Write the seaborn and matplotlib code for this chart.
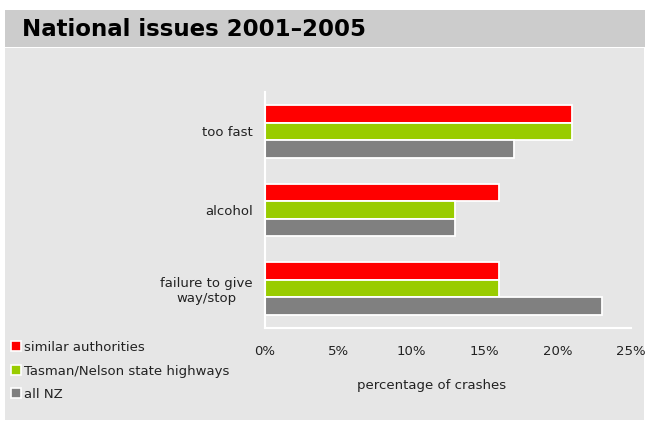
import matplotlib
matplotlib.use("Agg")
import matplotlib.pyplot as plt
import seaborn as sns
import pandas as pd
from matplotlib.patches import Rectangle
from matplotlib.lines import Line2D

categories = ["too fast", "alcohol", "failure to give\nway/stop"]
series = ["similar authorities", "Tasman/Nelson state highways", "all NZ"]
similar_authorities = [21, 16, 16]
tasman_nelson = [21, 13, 16]
all_nz = [17, 13, 23]
colors = ["#ff0000", "#99cc00", "#808080"]
xticks = [0, 5, 10, 15, 20, 25]
xtick_labels = ["0%", "5%", "10%", "15%", "20%", "25%"]

rows = []
for s, vals in zip(series, [similar_authorities, tasman_nelson, all_nz]):
    for c, v in zip(categories, vals):
        rows.append({"category": c, "series": s, "value": v})
df = pd.DataFrame(rows)

sns.set_style("white")
plt.rcParams["font.family"] = ["DejaVu Sans"]

W, H = 645, 421
FS = 9.5
fig = plt.figure(figsize=(W / 100, H / 100), dpi=100, facecolor="white")

# background panels
fig.patches.append(Rectangle((5 / W, 1 - 47 / H), 640 / W, 37 / H,
                             transform=fig.transFigure, facecolor="#cccccc",
                             edgecolor="none", zorder=-10))
fig.patches.append(Rectangle((5 / W, 1 - 420 / H), 639 / W, 372 / H,
                             transform=fig.transFigure, facecolor="#e6e6e6",
                             edgecolor="none", zorder=-10))
fig.text(22 / W, 1 - 30 / H, "National issues 2001\u20132005", fontsize=16.5,
         fontweight="bold", va="center", ha="left", color="#000000")

ax = fig.add_axes([265 / W, 1 - 328 / H, 366 / W, 236 / H])
ax.set_zorder(5)
ax.set_facecolor("none")
sns.barplot(data=df, y="category", x="value", hue="series", order=categories,
            hue_order=series, palette=colors, orient="h", width=0.67,
            edgecolor="white", linewidth=1.3, saturation=1, ax=ax, legend=False)

ax.set_xlim(0, 25)
ax.set_ylim(2.5, -0.5)
ax.set_xticks(xticks)
ax.set_xticklabels(xtick_labels, fontsize=FS, color="#222222")
ax.tick_params(axis="x", length=0, pad=12)
ax.set_yticks(range(len(categories)))
ax.set_yticklabels(categories, fontsize=FS, color="#222222", multialignment="center")
ax.tick_params(axis="y", which="major", length=0, pad=9)
ax.set_yticks([-0.5, 0.5, 1.5, 2.5], minor=True)
ax.tick_params(axis="y", which="minor", length=5, width=1.5, color="white")
ax.set_ylabel("")
ax.set_xlabel("percentage of crashes", fontsize=FS, color="#222222")
ax.xaxis.set_label_coords((432 - 265) / 366, -0.218)
for side in ["top", "right"]:
    ax.spines[side].set_visible(False)
for side in ["left", "bottom"]:
    ax.spines[side].set_color("white")
    ax.spines[side].set_linewidth(1.5)
ax.grid(False)

handles = [Line2D([], [], marker="s", linestyle="none", markersize=6.5,
                  markerfacecolor=c, markeredgecolor="white", markeredgewidth=1.2)
           for c in colors]
fig.legend(handles, series, loc="upper left",
           bbox_to_anchor=(12 / W, 1 - 341 / H), frameon=False, fontsize=FS,
           handlelength=0.6, handletextpad=0.3, labelspacing=0.8,
           borderpad=0, borderaxespad=0, labelcolor="#222222")

fig.savefig("out.png", dpi=100, facecolor="white")
